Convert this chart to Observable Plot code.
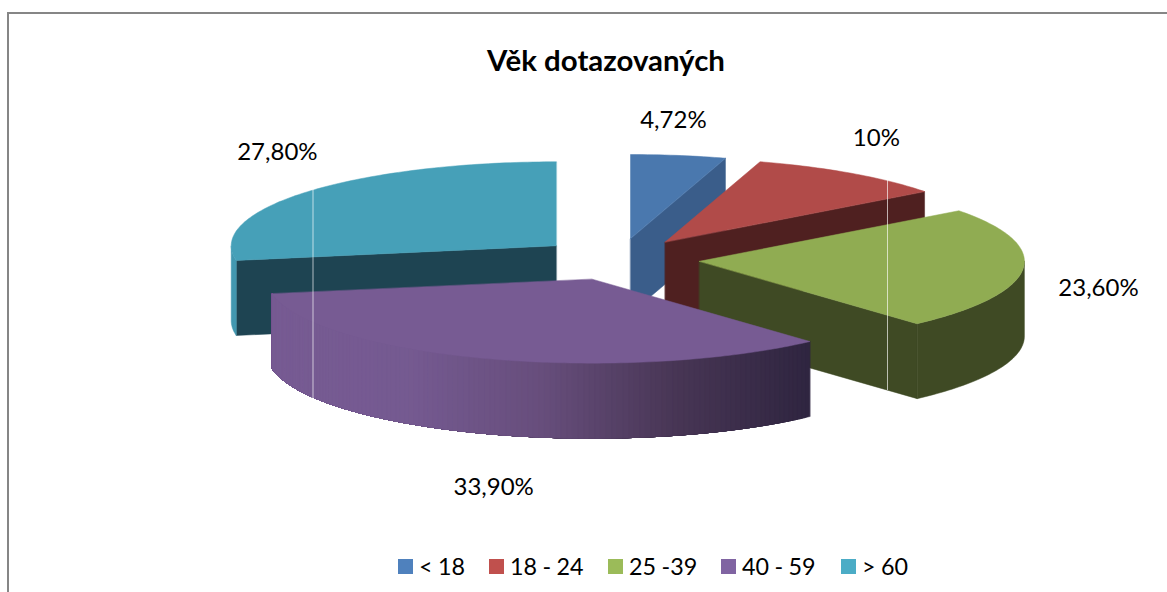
<!DOCTYPE html>
<html lang="cs"><head><meta charset="utf-8">
<script src="https://cdn.jsdelivr.net/npm/d3@7"></script>
<script src="https://cdn.jsdelivr.net/npm/@observablehq/plot@0.6"></script>
<style>
html,body{margin:0;padding:0;background:#fff;overflow:hidden}
#frame{position:relative;width:1167px;height:592px;overflow:hidden;font-family:Lato,sans-serif;color:#000}
#border{position:absolute;left:7px;top:12px;right:-4px;bottom:-4px;border-left:2px solid #868686;border-top:2px solid #868686}
#title{position:absolute;left:0;top:40px;width:1212px;text-align:center;font-size:29.4px;font-weight:700;line-height:40px}
#chart{position:absolute;left:0;top:100px}
#legend{position:absolute;left:398px;top:552px;height:28px;font-size:23.3px;white-space:nowrap;word-spacing:-.5px}
#legend span.k{display:inline-block;width:15px;height:15px;margin-right:6px}
#legend span.i{display:flex;align-items:center;position:absolute;top:0;height:28px}
</style></head><body>
<div id="frame"><div id="border"></div><div id="title">Věk dotazovaných</div><div id="chart"></div><div id="legend"></div></div>
<script>
const categories = ["< 18", "18 - 24", "25 -39", "40 - 59", "> 60"];
const shares = [4.72, 10, 23.6, 33.9, 27.8];
const labels = ["4,72%", "10%", "23,60%", "33,90%", "27,80%"];
const legendColors = ["#4f81bd", "#c0504d", "#9bbb59", "#8064a2", "#4bacc6"];
const topColors = ["#4a78ae", "#b14b49", "#90ac52", "#775b93", "#46a0b8"];
const faceColors = ["#3a5d8a", "#4f2020", "#3f4a24", "#30253f", "#1e4452"];
const rimStops = [
  ["#3a5d8a"], ["#4f2020"], ["#3f4a24"],
  ["#775b93", "#755a91", "#674e7c", "#483655", "#2f2540"],
  ["#4298b0"]
];
const labelOffsets = [[.132,-1.405],[.65,-1.233],[1.228,.32],[-.303,2.48],[-.858,-1.11]];
const legendLefts = [0, 91, 210, 323, 443];

// pie geometry, in units of the pie radius
const explode = 0.25, depth = 75 / 84;
const W = 1167, H = 440;
const pxX = 325, pxY = 84, originX = 618, originY = 158.8;
const toX = px => (px - originX) / pxX, toY = py => (py - 100 - originY) / pxY;
const rad = d => d * Math.PI / 180;
const total = d3.sum(shares);
const pt = (c, a, dz = 0) => [c[0] + Math.sin(rad(a)), c[1] - Math.cos(rad(a)) + dz];

const polys = [];
const add = (id, fill, pts) => pts.forEach(([x, y]) => polys.push({id, fill, x, y}));
let acc = 0;
const slices = shares.map((v, i) => {
  const a0 = acc / total * 360; acc += v; const a1 = acc / total * 360, mid = (a0 + a1) / 2;
  return {i, a0, a1, c: [explode * Math.sin(rad(mid)), -explode * Math.cos(rad(mid))]};
});
const arcAngles = (a, b) => d3.range(a, b, 1).concat([b]);
const face = (s, a, tag) => add(`f${s.i}${tag}`, faceColors[s.i],
  [s.c, pt(s.c, a), pt(s.c, a, depth), [s.c[0], s.c[1] + depth]]);
const drawSlice = s => {
  if (Math.sin(rad(s.a1)) > 1e-6) face(s, s.a1, "e");
  if (-Math.sin(rad(s.a0)) > 1e-6) face(s, s.a0, "s");
  const from = Math.max(s.a0, 90), to = Math.min(s.a1, 270);
  if (to > from) {
    const stops = rimStops[s.i];
    const shade = stops.length > 1 ? d3.piecewise(d3.interpolateRgb, stops) : () => stops[0];
    const sinA = Math.sin(rad(from)), sinB = Math.sin(rad(to));
    const lo = Math.min(sinA, sinB), hi = Math.max(sinA, sinB);
    const n = stops.length > 1 ? Math.ceil(to - from) : 1;
    // every band runs on to the rim's far end, so the next band paints over it without a seam
    for (let k = 0; k < n; k++) {
      const u = from + (to - from) * k / n;
      const mid = from + (to - from) * (k + .5) / n;
      const col = shade((Math.sin(rad(mid)) - lo) / (hi - lo || 1));
      const angles = arcAngles(u, to);
      add(`r${s.i}-${k}`, col, [
        ...angles.map(a => pt(s.c, a)),
        ...angles.slice().reverse().map(a => pt(s.c, a, depth))
      ]);
    }
  }
  add(`t${s.i}`, topColors[s.i], [s.c, ...arcAngles(s.a0, s.a1).map(a => pt(s.c, a))]);
};
// painter's order: back slices first, the front slice last
[0, 1, 4, 2, 3].forEach(i => drawSlice(slices[i]));

const labelData = slices.map(s => ({
  text: labels[s.i],
  x: s.c[0] + labelOffsets[s.i][0],
  y: s.c[1] + labelOffsets[s.i][1]
}));
// the two pale hairlines that run across the reference picture
const hairlines = [
  {x: toX(312.5), y1: toY(189), y2: toY(398)},
  {x: toX(887), y1: toY(180), y2: toY(390)}
];

const plot = Plot.plot({
  width: W, height: H,
  margin: 0,
  x: {domain: [toX(0), toX(W)], range: [0, W], axis: null},
  y: {domain: [toY(100), toY(100 + H)], range: [0, H], axis: null},
  color: {type: "identity"},
  marks: [
    Plot.line(polys, {x: "x", y: "y", z: "id", fill: "fill", stroke: "fill", strokeWidth: 0.5, curve: "linear-closed"}),
    Plot.ruleX(hairlines, {x: "x", y1: "y1", y2: "y2", stroke: "#fff", strokeOpacity: 0.65, strokeWidth: 1}),
    Plot.text(labelData, {x: "x", y: "y", text: "text", fontSize: 24, fill: "#000", fontFamily: "Lato, sans-serif"})
  ]
});
document.getElementById("chart").appendChild(plot);

const lg = document.getElementById("legend");
categories.forEach((c, i) => {
  const item = document.createElement("span"); item.className = "i"; item.style.left = legendLefts[i] + "px";
  const k = document.createElement("span"); k.className = "k"; k.style.background = legendColors[i];
  item.appendChild(k); item.appendChild(document.createTextNode(c));
  lg.appendChild(item);
});
</script></body></html>
